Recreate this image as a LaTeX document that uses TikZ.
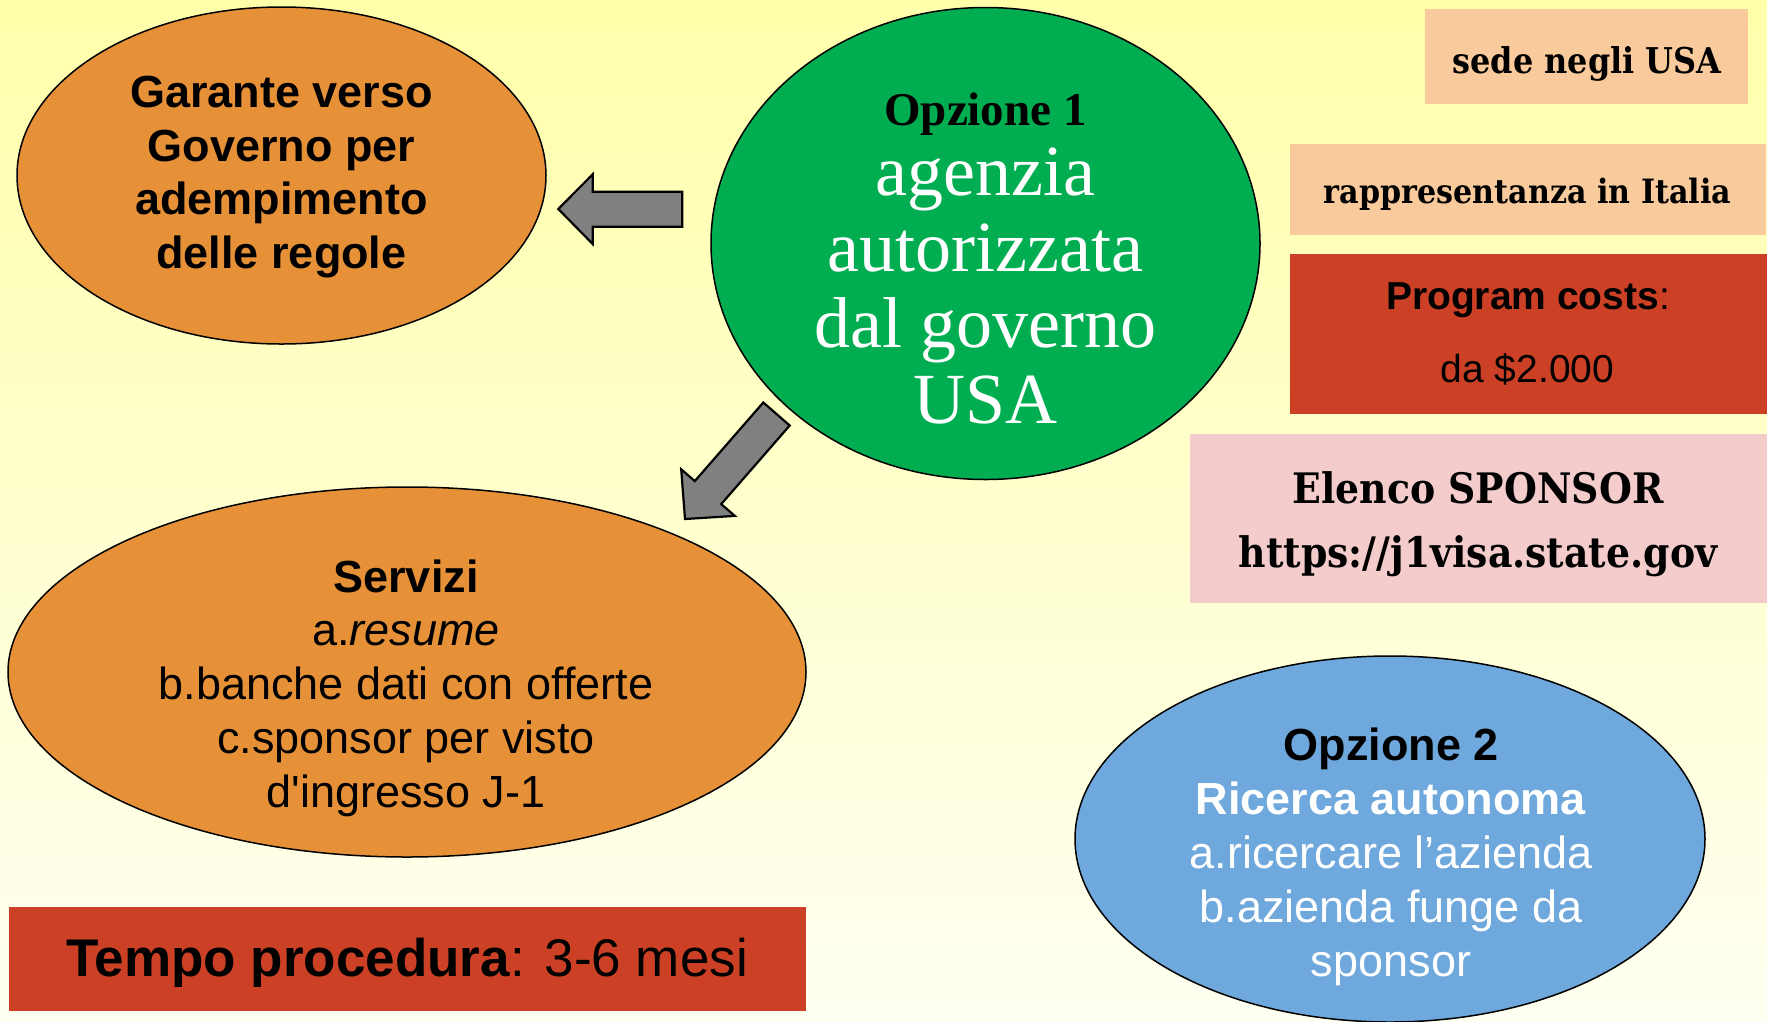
\documentclass[tikz,border=0pt]{standalone}
\usepackage{fontspec}
\setmainfont{Liberation Sans}
\newfontfamily\tnr{Liberation Serif}
\newfontfamily\djs[FakeStretch=0.9]{DejaVu Serif}
\usetikzlibrary{shapes.geometric}
\newcommand{\mylines}[1]{\vtop{\halign{\hfil##\hfil\cr#1\crcr}}}
\newcommand{\straightquote}{{\XeTeXglyph\XeTeXcharglyph"0027\relax}}
\definecolor{bgtop}{RGB}{255,255,170}
\definecolor{bgbot}{RGB}{255,255,242}
\definecolor{orangefill}{HTML}{E69138}
\definecolor{greenfill}{RGB}{0,173,80}
\definecolor{bluefill}{HTML}{6FA8DC}
\definecolor{redfill}{HTML}{CC4125}
\definecolor{peachfill}{HTML}{F9CB9C}
\definecolor{pinkfill}{HTML}{F4CCCC}
\definecolor{arrowgray}{HTML}{808080}
\begin{document}
\begin{tikzpicture}[x=1pt,y=-1pt,
  oval/.style={ellipse, draw=black, line width=1.5pt, inner sep=0pt},
  box/.style={rectangle, draw=none, inner sep=0pt, anchor=north west},
  txt/.style={anchor=base, inner sep=0pt, outer sep=0pt},
  blockarrow/.style={draw=black, fill=arrowgray, line width=2.2pt, line join=miter}]
\useasboundingbox (0,0) rectangle (1767,1021);
\shade[top color=bgtop, bottom color=bgbot] (0,0) rectangle (1767,1021);

% ellipses
\node[oval, fill=orangefill, minimum width=529pt, minimum height=337pt] (garante) at (281.5,175.5) {};
\node[oval, fill=greenfill, minimum width=549pt, minimum height=472pt] (opz1) at (985.5,243.5) {};
\node[oval, fill=orangefill, minimum width=798pt, minimum height=370pt] (servizi) at (407,672) {};
\node[oval, fill=bluefill, minimum width=630pt, minimum height=366pt] (opz2) at (1390,839) {};

% boxes
\node[box, fill=peachfill, minimum width=323pt, minimum height=95pt] (sede) at (1425,9) {};
\node[box, fill=peachfill, minimum width=476pt, minimum height=91pt] (rappr) at (1289.5,144) {};
\node[box, fill=redfill, minimum width=478pt, minimum height=160pt] (costs) at (1289.5,254) {};
\node[box, fill=pinkfill, minimum width=577pt, minimum height=169pt] (elenco) at (1190,434) {};
\node[box, fill=redfill, minimum width=797pt, minimum height=104pt] (tempo) at (9,907) {};

% block arrows
\draw[blockarrow] (682.3,191.7) -- (592.7,191.7) -- (592.7,174.3) -- (558.3,209) -- (592.7,244) -- (592.7,226.7) -- (682.3,226.7) -- cycle;
\draw[blockarrow] (763.3,402.5) -- (694.8,481.1) -- (681.2,469.3) -- (685,519) -- (734.8,515.9) -- (721.2,504.1) -- (789.7,425.5) -- cycle;

% texts
\node[txt, font=\fontsize{45}{53.6}\selectfont\bfseries] (garantetxt) at (281.5,107.5)
  {\mylines{Garante verso\cr Governo per\cr adempimento\cr delle regole}};

\node[txt, font=\tnr\fontsize{47}{56}\selectfont\bfseries] (opz1title) at (985.5,125) {Opzione 1};
\node[txt, text=white, font=\tnr\fontsize{72}{76}\selectfont] (opz1txt) at (985.5,195)
  {\mylines{agenzia\cr autorizzata\cr dal governo\cr USA}};

\node[txt, font=\fontsize{45}{53.75}\selectfont] (servizitxt) at (406,592)
  {\mylines{\textbf{Servizi}\cr a.\textit{resume}\cr b.banche dati con offerte\cr c.sponsor per visto\cr d\straightquote ingresso J-1}};

\node[txt, text=white, font=\fontsize{45}{54.2}\selectfont] (opz2txt) at (1391,760)
  {\mylines{{\color{black}\bfseries Opzione 2}\cr \textbf{Ricerca autonoma}\cr a.ricercare l’azienda\cr b.azienda funge da\cr sponsor}};

\node[txt, font=\djs\fontsize{35.5}{40}\selectfont\bfseries] (sedetxt) at (1587,73) {sede negli USA};
\node[txt, font=\djs\fontsize{33.5}{38}\selectfont\bfseries] (rapprtxt) at (1527.5,203) {rappresentanza in Italia};

\node[txt, font=\fontsize{39}{46}\selectfont] (coststxt) at (1528,309) {\textbf{Program costs}:};
\node[txt, font=\fontsize{39}{46}\selectfont] (coststxt2) at (1527.5,382) {da \$2.000};

\node[txt, font=\djs\fontsize{42}{64}\selectfont\bfseries] (elencotxt) at (1478,503)
  {\mylines{Elenco SPONSOR\cr https://j1visa.state.gov}};

\node[txt, font=\fontsize{53}{60}\selectfont] (tempotxt) at (407,976) {\textbf{Tempo procedura}: 3-6 mesi};
\end{tikzpicture}
\end{document}
